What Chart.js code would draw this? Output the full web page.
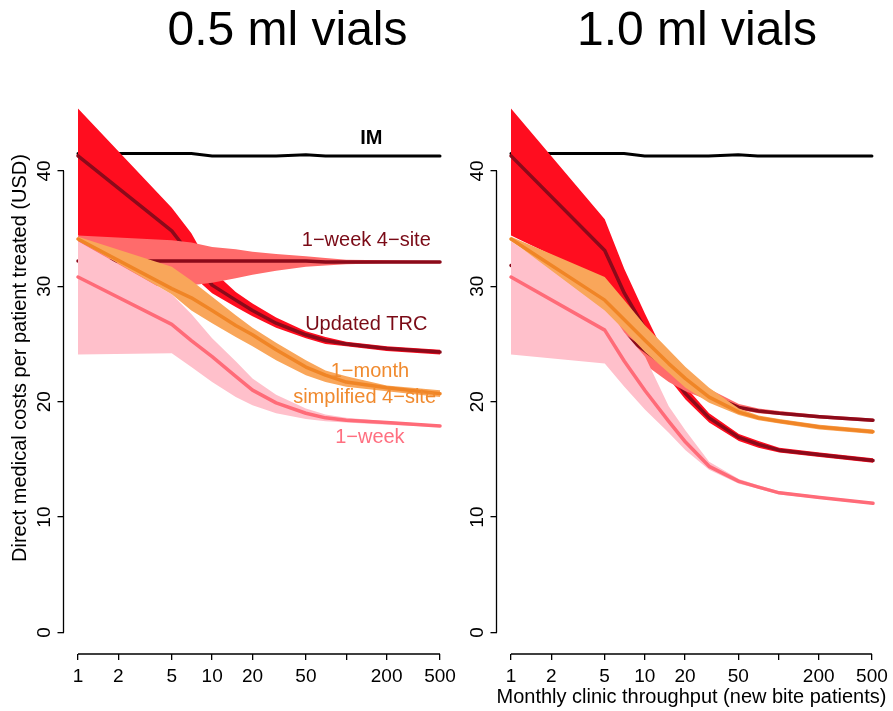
<!DOCTYPE html>
<html>
<head>
<meta charset="utf-8">
<script src="https://cdn.jsdelivr.net/npm/chart.js@4.4.1/dist/chart.umd.min.js"></script>
<style>
  body { margin: 0; background: #fff; width: 893px; height: 711px; overflow: hidden; position: relative; }
  canvas { position: absolute; top: 0; }
</style>
</head>
<body>
<script>
// x values (monthly clinic throughput) and axis ticks
const throughput = [1, 5, 7, 10, 15, 20, 30, 50, 70, 100, 200, 500];
const xTicks = [1, 2, 5, 10, 20, 50, 100, 200, 500];
const yTicks = [0, 10, 20, 30, 40];

// 0.5 ml vials
const imHalf      = [41.5, 41.5, 41.5, 41.3, 41.3, 41.3, 41.3, 41.4, 41.3, 41.3, 41.3, 41.3];
const trcHalf     = [41.3, 34.8, 32.6, 30.1, 28.8, 27.9, 26.8, 25.8, 25.3, 25.0, 24.6, 24.3];
const trcHalfHi   = [45.4, 36.8, 34.6, 31.4, 29.5, 28.5, 27.3, 26.1, 25.6, 25.2, 24.8, 24.5];
const trcHalfLo   = [34.4, 31.5, 31.0, 29.4, 28.2, 27.4, 26.4, 25.5, 25.0, 24.8, 24.4, 24.1];
const siteHalf    = [32.2, 32.2, 32.2, 32.2, 32.2, 32.2, 32.2, 32.2, 32.1, 32.1, 32.1, 32.1];
const siteHalfHi  = [34.4, 34.0, 33.8, 33.4, 33.2, 33.0, 32.8, 32.6, 32.45, 32.3, 32.25, 32.2];
const siteHalfLo  = [30.0, 30.0, 30.1, 30.3, 30.7, 31.0, 31.35, 31.7, 31.8, 31.9, 32.0, 32.0];
const monthHalf   = [34.1, 29.8, 29.0, 27.9, 26.6, 25.8, 24.5, 23.0, 22.3, 21.7, 21.2, 20.7];
const monthHalfHi = [34.3, 31.7, 30.5, 29.1, 27.5, 26.4, 25.1, 23.6, 22.7, 22.2, 21.4, 21.0];
const monthHalfLo = [34.0, 29.3, 27.9, 26.8, 25.6, 24.8, 23.6, 22.3, 21.7, 21.3, 20.9, 20.4];
const weekHalf    = [30.8, 26.7, 25.3, 23.9, 22.2, 21.0, 19.9, 19.0, 18.6, 18.4, 18.2, 17.9];
const weekHalfHi  = [33.9, 29.3, 27.6, 25.5, 23.5, 22.0, 20.6, 19.4, 18.9, 18.6, 18.3, 18.0];
const weekHalfLo  = [24.1, 24.2, 23.0, 21.7, 20.4, 19.7, 19.0, 18.5, 18.3, 18.2, 18.0, 17.8];

// 1.0 ml vials
const imOne      = [41.5, 41.5, 41.5, 41.3, 41.3, 41.3, 41.3, 41.4, 41.3, 41.3, 41.3, 41.3];
const trcOne     = [41.3, 33.1, 29.4, 26.3, 22.7, 20.7, 18.6, 16.9, 16.3, 15.8, 15.4, 14.9];
const trcOneHi   = [45.4, 35.8, 31.5, 27.6, 23.4, 21.3, 19.0, 17.2, 16.6, 16.0, 15.6, 15.1];
const trcOneLo   = [34.4, 30.5, 28.0, 25.5, 22.0, 20.2, 18.2, 16.6, 16.0, 15.6, 15.2, 14.7];
const siteOne    = [31.8, 28.0, 25.7, 24.4, 22.9, 21.9, 20.6, 19.5, 19.2, 19.0, 18.7, 18.4];
const siteOneHi  = [33.5, 29.5, 27.0, 25.6, 23.9, 22.7, 21.1, 19.8, 19.4, 19.2, 18.85, 18.55];
const siteOneLo  = [30.0, 26.5, 24.3, 23.2, 21.7, 20.9, 20.1, 19.3, 19.0, 18.85, 18.55, 18.25];
const monthOne   = [34.1, 28.8, 27.1, 25.3, 23.3, 22.0, 20.4, 19.1, 18.6, 18.3, 17.8, 17.4];
const monthOneHi = [34.3, 30.8, 28.8, 26.6, 24.5, 23.0, 21.2, 19.4, 18.8, 18.5, 18.0, 17.6];
const monthOneLo = [34.0, 27.9, 26.2, 24.3, 22.5, 21.2, 19.9, 18.85, 18.4, 18.1, 17.6, 17.2];
const weekOne    = [30.8, 26.2, 23.5, 20.95, 18.3, 16.5, 14.4, 13.1, 12.6, 12.1, 11.7, 11.2];
const weekOneHi  = [33.9, 28.5, 26.0, 23.9, 19.6, 17.5, 14.8, 13.3, 12.75, 12.25, 11.8, 11.3];
const weekOneLo  = [24.1, 23.3, 21.3, 19.3, 17.3, 15.8, 14.1, 12.9, 12.45, 11.95, 11.6, 11.1];

// curve labels (left panel), placed in data coordinates
const labelText  = ['IM', '1\u2212week 4\u2212site', 'Updated TRC', '1\u2212month', 'simplified 4\u2212site', '1\u2212week'];
const labelX     = [154, 141, 141, 150, 137, 150];
const labelY     = [42.8, 33.95, 26.7, 22.6, 20.35, 16.9];
const labelColor = ['#000000', '#7a0a16', '#7a0a16', '#f08a2e', '#f08a2e', '#ff6f80'];
const labelWeight = ['bold', 'normal', 'normal', 'normal', 'normal', 'normal'];

const fam = '"Liberation Sans", Arial, Helvetica, sans-serif';

let toPts = vals => vals.map((v, i) => ({x: throughput[i], y: v}));

// R-like axes and panel titles (bottom layer)
const rAxes = {
	id: 'rAxes',
	afterDraw(chart, args, opts) {
		if (!opts.title) return;
		const ctx = chart.ctx;
		const x = chart.scales.x, y = chart.scales.y, area = chart.chartArea;
		ctx.save();
		ctx.strokeStyle = '#000';
		ctx.lineWidth = 1.3;
		ctx.beginPath();
		ctx.moveTo(x.getPixelForValue(xTicks[0]), area.bottom);
		ctx.lineTo(x.getPixelForValue(xTicks[xTicks.length - 1]), area.bottom);
		ctx.moveTo(area.left, y.getPixelForValue(yTicks[0]));
		ctx.lineTo(area.left, y.getPixelForValue(yTicks[yTicks.length - 1]));
		ctx.stroke();

		ctx.fillStyle = '#000';
		ctx.textAlign = 'center';
		ctx.textBaseline = 'alphabetic';
		ctx.font = '48px ' + fam;
		ctx.fillText(opts.title, opts.titleX, 45);

		if (opts.yTitle) {
			ctx.save();
			ctx.translate(20, 358);
			ctx.rotate(-Math.PI / 2);
			ctx.textBaseline = 'middle';
			ctx.font = '20px ' + fam;
			ctx.fillText(opts.yTitle, 0, 0);
			ctx.restore();
		}
		ctx.restore();
	}
};

// curve labels (top layer)
const curveLabels = {
	id: 'curveLabels',
	afterDraw(chart, args, opts) {
		if (!opts.show) return;
		const ctx = chart.ctx;
		const x = chart.scales.x, y = chart.scales.y;
		ctx.save();
		ctx.textAlign = 'center';
		ctx.textBaseline = 'middle';
		labelText.forEach((t, i) => {
			ctx.font = labelWeight[i] + ' 20px ' + fam;
			ctx.fillStyle = labelColor[i];
			ctx.fillText(t, x.getPixelForValue(labelX[i]), y.getPixelForValue(labelY[i]));
		});
		ctx.restore();
	}
};

let lineDs = (vals, color, width) => ({
	data: toPts(vals), borderColor: color, borderWidth: width, pointRadius: 0,
	fill: false, tension: 0, borderCapStyle: 'round', borderJoinStyle: 'round'
});
let bandDs = (hi, lo, color) => [
	{data: toPts(hi), borderWidth: 0, borderColor: 'transparent', backgroundColor: color,
		pointRadius: 0, fill: '+1', tension: 0},
	{data: toPts(lo), borderWidth: 0, borderColor: 'transparent',
		pointRadius: 0, fill: false, tension: 0}
];

// one chart per layer, stacked, so bands can cover the lines drawn below them
function layer(left, width, padRight, datasets, base, axesOpts, showLabels) {
	const cv = document.createElement('canvas');
	cv.width = width;
	cv.height = 711;
	cv.style.left = left + 'px';
	document.body.appendChild(cv);

	const xTitle = base ? (axesOpts.xTitle || '') : '';
	return new Chart(cv, {
		type: 'line',
		data: {datasets: datasets},
		options: {
			responsive: false,
			animation: false,
			events: [],
			layout: {padding: {left: 0, right: padRight, top: 87.8, bottom: 0}},
			plugins: {
				legend: {display: false},
				tooltip: {enabled: false},
				rAxes: base ? axesOpts : {},
				curveLabels: {show: !!showLabels}
			},
			scales: {
				x: {
					type: 'logarithmic', min: 0.7797, max: 641.2, display: base,
					afterBuildTicks: sc => { sc.ticks = xTicks.map(v => ({value: v})); },
					afterFit: sc => { sc.height = 57; },
					border: {display: false},
					grid: {drawOnChartArea: false, tickLength: 6, color: '#000', lineWidth: 1.3},
					ticks: {autoSkip: false, maxRotation: 0, padding: 5, color: '#000',
						font: {size: 19, family: fam}, callback: v => v === 100 ? '' : String(v)},
					title: {display: !!xTitle, text: xTitle, color: '#000',
						font: {size: 20, family: fam}, padding: {top: 2, bottom: 2}}
				},
				y: {
					type: 'linear', min: -1.863, max: 47.2, display: base,
					afterBuildTicks: sc => { sc.ticks = yTicks.map(v => ({value: v})); },
					afterFit: sc => { sc.width = 63.5; },
					border: {display: false},
					grid: {drawOnChartArea: false, tickLength: 6, color: '#000', lineWidth: 1.3},
					ticks: {minRotation: 90, maxRotation: 90, crossAlign: 'center', padding: 2,
						color: '#000', font: {size: 19, family: fam}}
				}
			}
		},
		plugins: [rAxes, curveLabels]
	});
}

function panel(left, width, padRight, s, opts) {
	layer(left, width, padRight, [lineDs(s.im, '#000000', 3)], true, opts, false);
	layer(left, width, padRight, [lineDs(s.trc, '#8b0a1a', 3.5)].concat(bandDs(s.trcHi, s.trcLo, '#ff0d1f')), false, {}, false);
	layer(left, width, padRight, [lineDs(s.site, '#8b0a1a', 3.5)].concat(bandDs(s.siteHi, s.siteLo, '#ff6b6b')), false, {}, false);
	layer(left, width, padRight, bandDs(s.weekHi, s.weekLo, '#ffc0cb'), false, {}, false);
	layer(left, width, padRight, [lineDs(s.month, '#f08526', 3.5), lineDs(s.week, '#ff6b78', 3.5)]
		.concat(bandDs(s.monthHi, s.monthLo, '#f9a65a')), false, {}, opts.labels);
}

panel(0, 470, 15.5, {
	im: imHalf, trc: trcHalf, trcHi: trcHalfHi, trcLo: trcHalfLo,
	site: siteHalf, siteHi: siteHalfHi, siteLo: siteHalfLo,
	month: monthHalf, monthHi: monthHalfHi, monthLo: monthHalfLo,
	week: weekHalf, weekHi: weekHalfHi, weekLo: weekHalfLo
}, {title: '0.5 ml vials', titleX: 287.5,
	yTitle: 'Direct medical costs per patient treated (USD)', labels: true});

panel(433, 460, 5.5, {
	im: imOne, trc: trcOne, trcHi: trcOneHi, trcLo: trcOneLo,
	site: siteOne, siteHi: siteOneHi, siteLo: siteOneLo,
	month: monthOne, monthHi: monthOneHi, monthLo: monthOneLo,
	week: weekOne, weekHi: weekOneHi, weekLo: weekOneLo
}, {title: '1.0 ml vials', titleX: 264, xTitle: 'Monthly clinic throughput (new bite patients)'});
</script>
</body>
</html>
